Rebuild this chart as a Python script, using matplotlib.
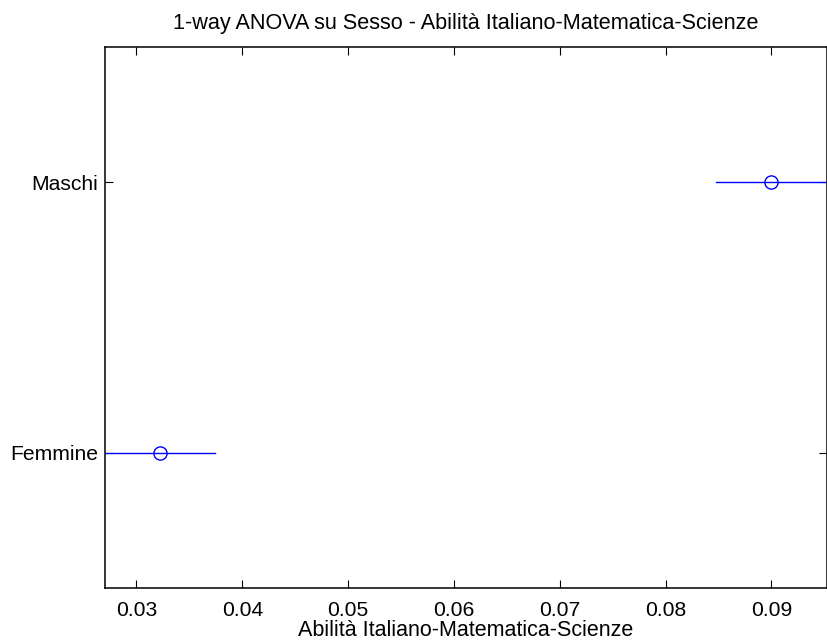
import matplotlib
matplotlib.use('Agg')
import matplotlib.pyplot as plt
import numpy as np

gruppi = ['Femmine', 'Maschi']
medie = [0.0322, 0.0900]
semiampiezza = [0.0052, 0.0052]

plt.rcParams['font.family'] = ['Liberation Sans', 'DejaVu Sans']

fig = plt.figure(figsize=(8.27, 6.42), dpi=100)
ax = fig.add_axes([0.1266, 0.0841, 0.8728, 0.8427])

y = np.arange(1, len(gruppi) + 1)
for yi, m, h in zip(y, medie, semiampiezza):
    ax.plot([m - h, m + h], [yi, yi], color='#0000ff', lw=1)
    ax.plot(m, yi, 'o', mfc='none', mec='#0000ff', ms=9.5, mew=1)

ax.set_xlim(0.0270, 0.0952)
ax.set_ylim(0.5, len(gruppi) + 0.5)
ax.set_yticks(y)
ax.set_yticklabels(gruppi)
ax.set_xticks([0.03, 0.04, 0.05, 0.06, 0.07, 0.08, 0.09])
ax.set_xticklabels(['0.03', '0.04', '0.05', '0.06', '0.07', '0.08', '0.09'])
ax.tick_params(direction='in', top=True, right=True, labelsize=15.2, length=6, width=0.8)
ax.tick_params(axis='x', pad=9)
ax.tick_params(axis='y', pad=5)
for s in ax.spines.values():
    s.set_linewidth(1.1)
ax.set_title('1-way ANOVA su Sesso - Abilità Italiano-Matematica-Scienze', fontsize=15.6, pad=13)
ax.set_xlabel('Abilità Italiano-Matematica-Scienze', fontsize=15.5, labelpad=0)

fig.savefig('out.png', dpi=100)
